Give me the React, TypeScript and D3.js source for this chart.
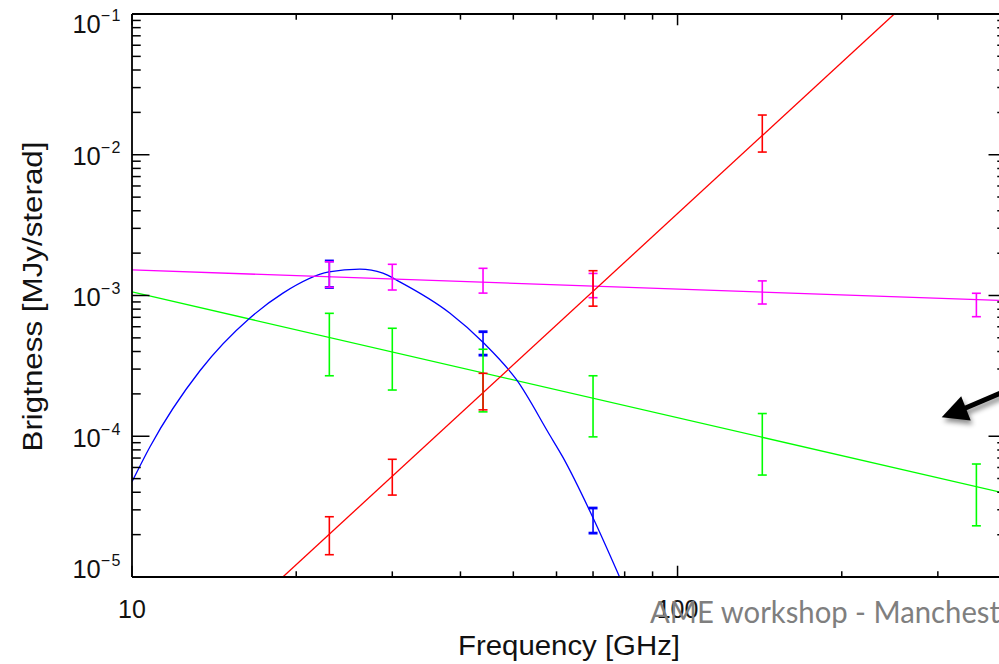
import React from 'react';
import * as d3 from 'd3';

// ---------- data ----------
const X_DOMAIN: [number, number] = [10, 400];
const Y_DOMAIN: [number, number] = [1e-5, 1e-1];
const xLabelTicks = [10, 100];
const xTickLabels = ['10', '100'];
const yLabelTicks = [1e-5, 1e-4, 1e-3, 1e-2, 1e-1];
const yTickExponents = ['−5', '−4', '−3', '−2', '−1'];

const freqs = [23, 30, 44, 70, 143, 353];

const greenValues = [5.08e-4, 3.99e-4, 2.82e-4, 1.84e-4, 9.9e-5, 4.33e-5];
const greenErrors = [2.39e-4, 1.86e-4, 1.33e-4, 0.85e-4, 4.6e-5, 2.02e-5];
const magentaValues = [1.44e-3, 1.38e-3, 1.3e-3, 1.2e-3, 1.07e-3, 8.72e-4];
const magentaErrors = [2.97e-4, 2.86e-4, 2.6e-4, 2.35e-4, 2.0e-4, 1.65e-4];
const redValues = [2.06e-5, 5.34e-5, 2.17e-4, 1.17e-3, 1.48e-2, null];
const redErrors = [6.2e-6, 1.52e-5, 6.3e-5, 3.3e-4, 4.35e-3, null];
const blueValues = [1.45e-3, null, 4.65e-4, 2.57e-5, null, null];
const blueErrors = [3.1e-4, null, 8.8e-5, 5.2e-6, null, null];

// model curves
const greenLineFreq = [10, 400];
const greenLineVal = [1.06e-3, 3.92e-5];
const magentaLineFreq = [10, 400];
const magentaLineVal = [1.52e-3, 9.2e-4];
const redLineFreq = [18.9, 249.6];
const redLineVal = [1e-5, 1e-1];
const blueCurveFreq = [10, 10.79, 13.32, 16.45, 18.91, 22.96, 26.16, 28.83, 30.96, 38.23, 44.13, 50.72, 58.3, 61.55, 69.88, 78.3];
const blueCurveVal = [4.75e-5, 8.43e-5, 2.92e-4, 6.92e-4, 1.04e-3, 1.47e-3, 1.54e-3, 1.44e-3, 1.25e-3, 7.51e-4, 4.6e-4, 2.51e-4, 1.02e-4, 7.16e-5, 2.67e-5, 1e-5];

const xTitle = 'Frequency [GHz]';
const yTitle = 'Brigtness [MJy/sterad]';
const overlayText = 'AME workshop - Manchest';

const COLORS = { green: '#00ff00', magenta: '#ff00ff', red: '#ff0000', blue: '#0000ff' };

export default function App() {
  const left = 132, right = 1006, top = 14, bottom = 577;
  const x = d3.scaleLog().domain(X_DOMAIN).range([left, right]);
  const y = d3.scaleLog().domain(Y_DOMAIN).range([bottom, top]);

  const line = d3.line<[number, number]>().x(d => x(d[0])).y(d => y(d[1]));
  const smooth = d3.line<[number, number]>().x(d => x(d[0])).y(d => y(d[1])).curve(d3.curveMonotoneX);
  const zip = (a: number[], b: number[]) => a.map((v, i) => [v, b[i]] as [number, number]);

  const xTicks = x.ticks();
  const yTicks = y.ticks();
  const isMajor = (v: number) => Math.abs(Math.log10(v) - Math.round(Math.log10(v))) < 1e-6;

  const xMajLen = 0.02 * (bottom - top);
  const yMajLen = 0.02 * (right - left);

  const errBars = (vals: (number | null)[], errs: (number | null)[], color: string, key: string, sw: number, capSw: number) =>
    freqs.map((f, i) => {
      const v = vals[i], e = errs[i];
      if (v == null || e == null) return null;
      const cx = x(f);
      const y1 = y(v + e), y2 = y(v - e);
      const hw = 4.5;
      return (
        <g key={key + i} stroke={color} fill="none">
          <line x1={cx} x2={cx} y1={y1} y2={y2} strokeWidth={sw} />
          <line x1={cx - hw} x2={cx + hw} y1={y1} y2={y1} strokeWidth={capSw} />
          <line x1={cx - hw} x2={cx + hw} y1={y2} y2={y2} strokeWidth={capSw} />
        </g>
      );
    });

  const tickFont = "'Liberation Sans', Arial, sans-serif";

  return (
    <svg width={999} height={664} style={{ position: 'absolute', left: 0, top: 0, background: '#fff' }}
      xmlns="http://www.w3.org/2000/svg">
      <defs>
        <clipPath id="plotClip">
          <rect x={left} y={top} width={right - left} height={bottom - top} />
        </clipPath>
        <filter id="shadow" x="-50%" y="-50%" width="200%" height="200%">
          <feDropShadow dx="2" dy="4" stdDeviation="2.5" floodColor="#000" floodOpacity="0.45" />
        </filter>
      </defs>
      <rect x={0} y={0} width={999} height={664} fill="#fff" />

      {/* curves */}
      <g clipPath="url(#plotClip)" fill="none" strokeWidth={1.3}>
        <path d={line(zip(greenLineFreq, greenLineVal)) || ''} stroke={COLORS.green} />
        <path d={smooth(zip(blueCurveFreq, blueCurveVal)) || ''} stroke={COLORS.blue} />
        <path d={line(zip(magentaLineFreq, magentaLineVal)) || ''} stroke={COLORS.magenta} />
        <path d={line(zip(redLineFreq, redLineVal)) || ''} stroke={COLORS.red} />
      </g>

      {/* error bars */}
      <g clipPath="url(#plotClip)">
        {errBars(blueValues, blueErrors, COLORS.blue, 'b', 1.6, 2.8)}
        {errBars(greenValues, greenErrors, COLORS.green, 'g', 1.6, 1.6)}
        {errBars(magentaValues, magentaErrors, COLORS.magenta, 'm', 1.6, 1.6)}
        {errBars(redValues, redErrors, COLORS.red, 'r', 1.6, 1.6)}
      </g>

      {/* axes box */}
      <g stroke="#000" strokeWidth={1.8} fill="none">
        <line x1={left} x2={right} y1={bottom} y2={bottom} />
        <line x1={left} x2={right} y1={top} y2={top} />
        <line x1={left} x2={left} y1={top} y2={bottom} />
        <line x1={right} x2={right} y1={top} y2={bottom} />
      </g>
      <g stroke="#000" strokeWidth={1.5}>
        {xTicks.map((t, i) => {
          const len = isMajor(t) ? xMajLen : xMajLen / 2;
          const px = x(t);
          return (
            <g key={'xt' + i}>
              <line x1={px} x2={px} y1={bottom} y2={bottom - len} />
              <line x1={px} x2={px} y1={top} y2={top + len} />
            </g>
          );
        })}
        {yTicks.map((t, i) => {
          const len = isMajor(t) ? yMajLen : yMajLen / 2;
          const py = y(t);
          return (
            <g key={'yt' + i}>
              <line x1={left} x2={left + len} y1={py} y2={py} />
              <line x1={right} x2={right - len} y1={py} y2={py} />
            </g>
          );
        })}
      </g>

      {/* tick labels */}
      <g fontFamily={tickFont} fill="#111">
        {xLabelTicks.map((t, i) => (
          <text key={'xl' + i} x={x(t)} y={618} fontSize={25} textAnchor="middle">{xTickLabels[i]}</text>
        ))}
        {yLabelTicks.map((t, i) => {
          const base = Math.min(Math.max(y(t) + 10.5, 33), 578);
          return (
            <text key={'yl' + i} x={122} y={base} fontSize={25.5} textAnchor="end">
              10<tspan dy={-12} fontSize={16} letterSpacing={1.5}>{yTickExponents[i]}</tspan>
            </text>
          );
        })}
      </g>

      {/* axis titles */}
      <text x={(left + right) / 2} y={655} fontFamily={tickFont} fontSize={27} textAnchor="middle" fill="#111"
        textLength={222} lengthAdjust="spacingAndGlyphs">{xTitle}</text>
      <text transform={`translate(42, ${(top + bottom) / 2 + 1}) rotate(-90)`} fontFamily={tickFont} fontSize={27}
        textAnchor="middle" fill="#111" textLength={310} lengthAdjust="spacingAndGlyphs">{yTitle}</text>

      {/* slide overlay */}
      <text x={650} y={622.5} fontFamily="Lato, 'Open Sans', sans-serif" fontSize={30} fill="#7f7f7f"
        textLength={350} lengthAdjust="spacingAndGlyphs">{overlayText}</text>

      {/* arrow */}
      <g filter="url(#shadow)">
        <line x1={1015} y1={387} x2={962} y2={409.5} stroke="#000" strokeWidth={5} />
        <polygon points="941.7,417.3 961.2,396.2 970.7,420.5" fill="#000" />
      </g>
    </svg>
  );
}
